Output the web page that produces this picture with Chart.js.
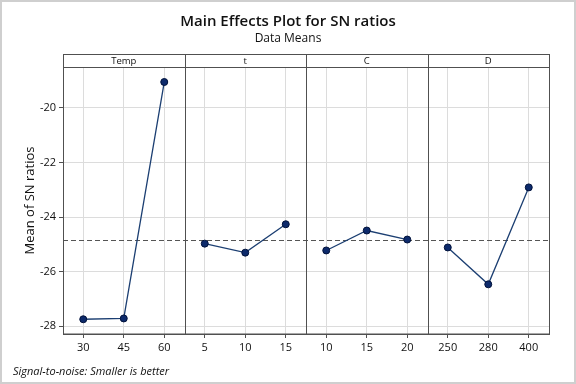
<!DOCTYPE html>
<html>
<head>
<meta charset="utf-8">
<script src="https://cdn.jsdelivr.net/npm/chart.js@4/dist/chart.umd.min.js"></script>
<style>
  html, body { margin: 0; padding: 0; background: #fff; }
  #c { display: block; }
</style>
</head>
<body>
<canvas id="c" width="576" height="384"></canvas>
<script>
// factor panels and their levels
const factors = ['Temp', 't', 'C', 'D'];
const tempLevels = ['30', '45', '60'];
const tLevels = ['5', '10', '15'];
const cLevels = ['10', '15', '20'];
const dLevels = ['250', '280', '400'];

// mean SN ratio at each level
const tempMeans = [-27.74, -27.71, -19.05];
const tMeans = [-24.97, -25.30, -24.26];
const cMeans = [-25.22, -24.49, -24.82];
const dMeans = [-25.11, -26.46, -22.91];
const overallMean = -24.84;

const yTicks = [-28, -26, -24, -22, -20];

const levelGroups = [tempLevels, tLevels, cLevels, dLevels];
const meanGroups = [tempMeans, tMeans, cMeans, dMeans];
const labels = [].concat(...levelGroups);

// one dataset per panel, nulls outside its own 3 slots
const datasets = meanGroups.map((means, i) => {
    const arr = labels.map(() => null);
    means.forEach((v, j) => { arr[i * 3 + j] = v; });
    return {
        label: factors[i],
        data: arr,
        borderColor: '#1c3f72',
        borderWidth: 1.3,
        pointRadius: 3.5,
        pointBackgroundColor: '#0d2a6b',
        pointBorderColor: '#00113a',
        pointBorderWidth: 1,
        spanGaps: false,
        tension: 0
    };
});

const FONT = "'Open Sans', 'Noto Sans', sans-serif";

const decor = {
    id: 'decor',
    beforeDatasetsDraw(chart) {
        const { ctx, chartArea: a, scales: { y } } = chart;
        // mean reference line
        const ym = Math.round(y.getPixelForValue(overallMean)) + 0.5;
        ctx.save();
        ctx.strokeStyle = '#555';
        ctx.lineWidth = 1;
        ctx.setLineDash([5, 3]);
        ctx.beginPath();
        ctx.moveTo(a.left, ym);
        ctx.lineTo(a.right, ym);
        ctx.stroke();
        ctx.restore();
    },
    afterDraw(chart) {
        const { ctx, chartArea: a, scales: { x } } = chart;
        const headTop = 54.5;
        ctx.save();
        // outer light border of the figure
        ctx.strokeStyle = '#cfcfcf';
        ctx.lineWidth = 2;
        ctx.strokeRect(1, 1, chart.width - 2, chart.height - 2);

        // plot frame incl. header strip
        ctx.strokeStyle = '#505050';
        ctx.lineWidth = 1;
        ctx.strokeRect(Math.round(a.left) + 0.5, headTop, Math.round(a.right - a.left), Math.round(a.bottom) - headTop);
        ctx.beginPath();
        ctx.moveTo(a.left, Math.round(a.top) + 0.5);
        ctx.lineTo(a.right, Math.round(a.top) + 0.5);
        ctx.stroke();

        // panel dividers
        const edges = [a.left];
        for (let i = 1; i < factors.length; i++) {
            const px = (x.getPixelForValue(i * 3 - 1) + x.getPixelForValue(i * 3)) / 2;
            edges.push(px);
            ctx.beginPath();
            ctx.moveTo(Math.round(px) + 0.5, headTop);
            ctx.lineTo(Math.round(px) + 0.5, a.bottom);
            ctx.stroke();
        }
        edges.push(a.right);

        // panel names
        ctx.fillStyle = '#111';
        ctx.font = '9.5px ' + FONT;
        ctx.textAlign = 'center';
        ctx.textBaseline = 'middle';
        factors.forEach((f, i) => {
            ctx.fillText(f, (edges[i] + edges[i + 1]) / 2, (headTop + a.top) / 2 + 0.5);
        });

        // titles
        ctx.fillStyle = '#111';
        ctx.font = '600 15px ' + FONT;
        ctx.fillText('Main Effects Plot for SN ratios', chart.width / 2, 22);
        ctx.font = '12px ' + FONT;
        ctx.fillText('Data Means', chart.width / 2, 39);

        // footnote
        ctx.font = 'italic 11px ' + FONT;
        ctx.textAlign = 'left';
        ctx.fillText('Signal-to-noise: Smaller is better', 13, 372);
        ctx.restore();
    }
};

new Chart(document.getElementById('c'), {
    type: 'line',
    data: { labels: labels, datasets: datasets },
    options: {
        responsive: false,
        animation: false,
        layout: { padding: { left: 0, top: 67, right: 27, bottom: 0 } },
        plugins: {
            legend: { display: false },
            tooltip: { enabled: false },
            title: { display: false }
        },
        scales: {
            x: {
                type: 'category',
                offset: true,
                grid: { color: '#dcdcdc', offset: false, tickLength: 4, tickColor: '#505050' },
                border: { color: '#505050' },
                ticks: { color: '#111', font: { family: FONT, size: 11 }, padding: 3, maxRotation: 0, autoSkip: false },
                afterFit(s) { s.height = 50; }
            },
            y: {
                min: -28.28,
                max: -18.5,
                afterBuildTicks(s) { s.ticks = yTicks.map(v => ({ value: v })); },
                grid: { color: '#dcdcdc', tickLength: 4, tickColor: '#505050' },
                border: { color: '#505050' },
                ticks: { color: '#111', font: { family: FONT, size: 11 }, padding: 3 },
                title: {
                    display: true,
                    text: 'Mean of SN ratios',
                    color: '#111',
                    font: { family: FONT, size: 13, weight: '500' },
                    padding: { top: 22, bottom: 0 }
                },
                afterFit(s) { s.width = 63; }
            }
        }
    },
    plugins: [decor]
});
</script>
</body>
</html>
